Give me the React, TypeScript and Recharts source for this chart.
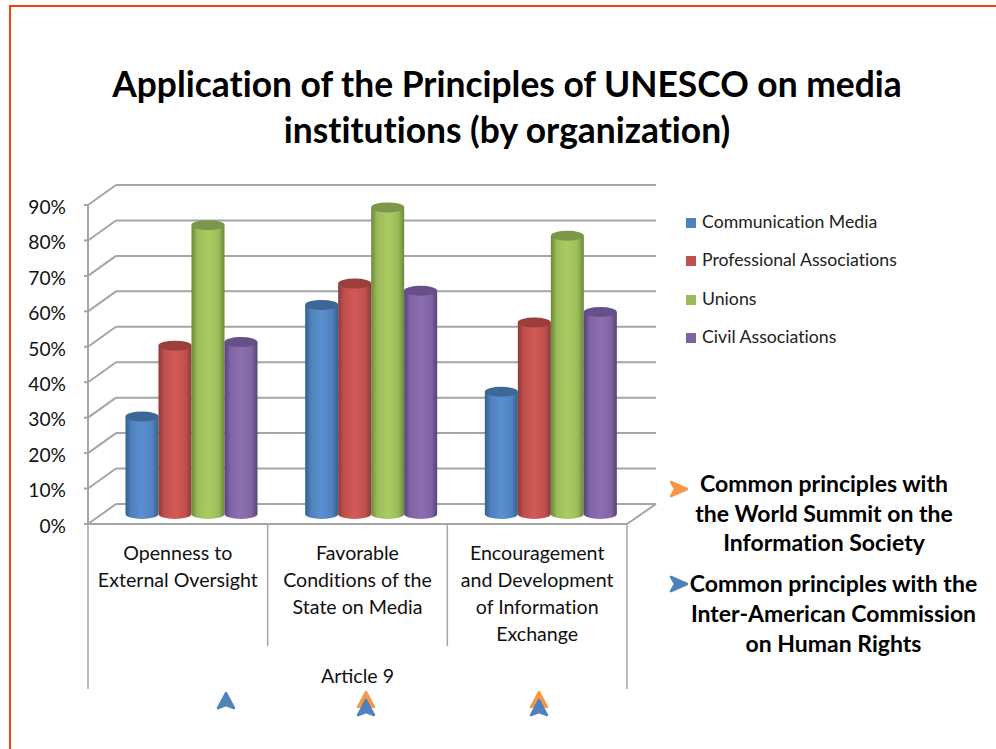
import React from 'react';
import { BarChart, Bar, XAxis, YAxis, CartesianGrid, Legend, Label } from 'recharts';

const categories = ['Openness to External Oversight', 'Favorable Conditions of the State on Media', 'Encouragement and Development of Information Exchange'];
const categoryLines = [
  ['Openness to', 'External Oversight'],
  ['Favorable', 'Conditions of the', 'State on Media'],
  ['Encouragement', 'and Development', 'of Information', 'Exchange'],
];
const communicationMedia = [27.5, 59, 34.5];
const professionalAssociations = [47.5, 65, 54];
const unions = [81.5, 86.5, 78.5];
const civilAssociations = [48.5, 63, 57];
const yTicks = [0, 10, 20, 30, 40, 50, 60, 70, 80, 90];

const titleLines = ['Application of the Principles of UNESCO on media', 'institutions (by organization)'];
const summitLines = ['Common principles with', 'the World Summit on the', 'Information Society'];
const commissionLines = ['Common principles with the', 'Inter-American Commission', 'on Human Rights'];

const series = [
  { key: 'media', name: 'Communication Media', values: communicationMedia, light: '#5a90d0', mid: '#4f81bd', dark: '#33608f', top: '#3c6797' },
  { key: 'prof', name: 'Professional Associations', values: professionalAssociations, light: '#d25a57', mid: '#c0504d', dark: '#8c3a38', top: '#9c3e3c' },
  { key: 'unions', name: 'Unions', values: unions, light: '#a9cc62', mid: '#9bbb59', dark: '#6c873a', top: '#7b9747' },
  { key: 'civil', name: 'Civil Associations', values: civilAssociations, light: '#8d6fb2', mid: '#8064a2', dark: '#57437a', top: '#675089' },
];

const data = categories.map((category, i) => ({
  category,
  media: communicationMedia[i],
  prof: professionalAssociations[i],
  unions: unions[i],
  civil: civilAssociations[i],
}));

const FONT = 'Lato, sans-serif';
const GRID = '#a5a5a5';
// 3D look: how far the back wall sits from the front frame, and where the bars stand
const DEPTH_X = 28;
const DEPTH_Y = -20;
const BAR_X = 14;
const BAR_Y = -10;

const Cylinder = (props: any) => {
  const { x, y, width, height, index, tone } = props;
  const left = x + BAR_X;
  const right = left + width;
  const top = y + BAR_Y;
  const bottom = top + height;
  const rx = width / 2;
  const ry = 5;
  const s = series[tone];
  return (
    <g key={index}>
      <path
        d={`M${left},${top} L${left},${bottom} A${rx},${ry} 0 0 0 ${right},${bottom} L${right},${top} Z`}
        fill={`url(#cyl-${s.key})`}
      />
      <ellipse cx={left + rx} cy={top} rx={rx} ry={ry} fill={s.top} />
    </g>
  );
};

const GridLine = (props: any) => {
  const { x1, x2, y1, y, height } = props;
  const isFloor = y1 >= y + height - 1;
  const backY = y1 + DEPTH_Y;
  return (
    <g fill="none" stroke={GRID} strokeWidth={2}>
      <line x1={x1} y1={y1} x2={x1 + DEPTH_X} y2={backY} />
      <line x1={x1 + DEPTH_X} y1={backY} x2={x2 + DEPTH_X + 1} y2={backY} />
      {isFloor && <line x1={x2} y1={y1} x2={x2 + DEPTH_X + 1} y2={backY} />}
    </g>
  );
};

const CategoryTick = (props: any) => {
  const { x, y, width, index, visibleTicksCount } = props;
  const half = width / visibleTicksCount / 2;
  const lines = categoryLines[index];
  const top = y - 8;
  return (
    <g>
      <line x1={x - half} y1={top} x2={x - half} y2={index === 0 ? top + 165 : top + 122} stroke={GRID} strokeWidth={1.5} />
      {index === visibleTicksCount - 1 && <line x1={x + half} y1={top} x2={x + half} y2={top + 165} stroke={GRID} strokeWidth={1.5} />}
      {lines.map((line, i) => (
        <text key={line} x={x} y={top + 36 + i * 27} textAnchor="middle" fontFamily={FONT} fontSize={19.6} fill="#111" style={{ fontVariantLigatures: 'none' }}>
          {line}
        </text>
      ))}
    </g>
  );
};

const LegendList = () => (
  <div style={{ fontFamily: FONT, fontSize: 17.7, color: '#222', fontVariantLigatures: 'none' }}>
    {series.map(s => (
      <div key={s.key} style={{ height: 38.4, lineHeight: '20px', whiteSpace: 'nowrap' }}>
        <span style={{ display: 'inline-block', width: 10, height: 10, background: s.mid, marginRight: 6 }} />
        {s.name}
      </div>
    ))}
  </div>
);

const Chevron = ({ cx, top, color }: { cx: number; top: number; color: string }) => (
  <path d={`M${cx},${top} L${cx + 8},${top + 15} L${cx},${top + 12} L${cx - 8},${top + 15} Z`} fill={color} stroke={color} strokeWidth={2.5} strokeLinejoin="round" />
);

const SideChevron = ({ left, cy, color }: { left: number; cy: number; color: string }) => (
  <path d={`M${left},${cy - 7} L${left + 16},${cy} L${left},${cy + 7} L${left + 4},${cy} Z`} fill={color} stroke={color} strokeWidth={2.5} strokeLinejoin="round" />
);

const App = () => {
  return (
    <div style={{ position: 'absolute', left: 0, top: 0, width: 996, height: 749, overflow: 'hidden', background: '#fff' }}>
      <div style={{ position: 'absolute', left: 9, top: 5, width: 987, height: 744, borderLeft: '2px solid #ff3c08', borderTop: '2px solid #ff3c08', boxSizing: 'border-box' }} />
      <BarChart
        width={996}
        height={749}
        data={data}
        barCategoryGap={23.5}
        barGap={0}
        margin={{ top: 205, right: 369, bottom: 60, left: 18 }}
        style={{ position: 'absolute', left: 0, top: 0 }}
      >
        <defs>
          {series.map(s => (
            <linearGradient key={s.key} id={`cyl-${s.key}`} x1="0" y1="0" x2="1" y2="0">
              <stop offset="0" stopColor={s.dark} />
              <stop offset="0.18" stopColor={s.mid} />
              <stop offset="0.5" stopColor={s.light} />
              <stop offset="0.82" stopColor={s.mid} />
              <stop offset="1" stopColor={s.dark} />
            </linearGradient>
          ))}
        </defs>
        <CartesianGrid vertical={false} horizontal={(p: any) => <GridLine key={p.key} {...p} />} />
        <XAxis
          dataKey="category"
          interval={0}
          height={165}
          tickLine={false}
          axisLine={{ stroke: GRID, strokeWidth: 2 }}
          tick={(p: any) => <CategoryTick {...p} />}
        >
          <Label value="Article 9" position="insideBottom" offset={6} fontFamily={FONT} fontSize={19.6} fill="#111" />
        </XAxis>
        <YAxis
          domain={[0, 90]}
          ticks={yTicks}
          width={70}
          tickSize={4}
          tickMargin={18}
          tickFormatter={(v: number) => `${v}%`}
          axisLine={{ stroke: GRID, strokeWidth: 2 }}
          tickLine={{ stroke: GRID, strokeWidth: 2 }}
          tick={{ fontFamily: FONT, fontSize: 19.2, fill: '#111', dy: 2 }}
        />
        <Legend
          layout="vertical"
          align="center"
          verticalAlign="middle"
          content={() => <LegendList />}
          wrapperStyle={{ left: 686, top: 212, width: 300 }}
        />
        {series.map((s, i) => (
          <Bar
            key={s.key}
            dataKey={s.key}
            name={s.name}
            isAnimationActive={false}
            shape={(p: any) => <Cylinder {...p} tone={i} />}
          />
        ))}
      </BarChart>
      <svg width={996} height={749} style={{ position: 'absolute', left: 0, top: 0, pointerEvents: 'none' }}>
        <g fontFamily={FONT} fontWeight={700} fill="#000" textAnchor="middle" style={{ fontVariantLigatures: 'none' }}>
          {titleLines.map((line, i) => (
            <text key={line} x={507} y={97 + i * 46} fontSize={35.4}>{line}</text>
          ))}
          {summitLines.map((line, i) => (
            <text key={line} x={824} y={492 + i * 29.5} fontSize={23}>{line}</text>
          ))}
          {commissionLines.map((line, i) => (
            <text key={line} x={833.5} y={592 + i * 30} fontSize={23}>{line}</text>
          ))}
        </g>
        <SideChevron left={671} cy={489} color="#f79646" />
        <SideChevron left={671} cy={584} color="#4f81bd" />
        <Chevron cx={226} top={693} color="#4f81bd" />
        <Chevron cx={366} top={692} color="#f79646" />
        <Chevron cx={366} top={700} color="#4f81bd" />
        <Chevron cx={539} top={692} color="#f79646" />
        <Chevron cx={539} top={700} color="#4f81bd" />
      </svg>
    </div>
  );
};

export default App;
